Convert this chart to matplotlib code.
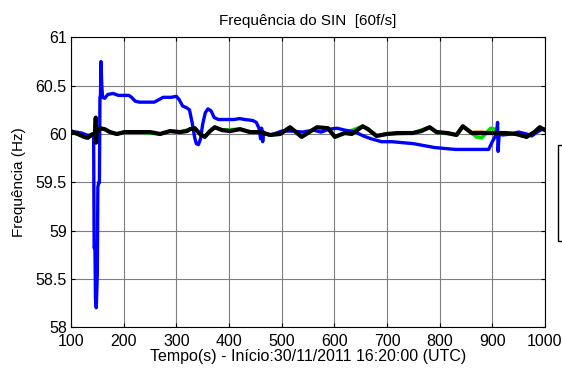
import numpy as np
import matplotlib.pyplot as plt
from matplotlib.patches import Rectangle

plt.rcParams['font.family'] = ['Liberation Sans', 'DejaVu Sans']

# PMU frequency record (s since start, Hz)
blue_t = [100, 110, 120, 130, 140, 143, 144, 145.5, 146.5, 148, 150, 151, 153, 154, 155, 156,
          157, 158.5, 160, 164, 170, 180, 190, 200, 210, 215, 222, 230, 245, 258, 265, 275,
          290, 300, 305, 312, 320, 325, 330, 335, 338, 342, 346, 350, 355, 360, 366, 372,
          380, 395, 410, 420, 430, 445, 452, 457, 460, 462, 464, 466, 470, 480, 490, 500,
          520, 540, 560, 575, 590, 605, 620, 640, 655, 670, 690, 710, 730, 750, 770, 790,
          810, 830, 850, 870, 893, 900, 905, 908, 910, 911, 913, 920, 935, 950, 965, 975,
          985, 995, 1000]
blue_v = [60.02, 60.02, 60.01, 59.99, 59.98, 59.99, 58.82, 58.84, 58.30, 58.20, 58.55, 59.45,
          59.50, 59.50, 60.38, 60.40, 60.75, 60.50, 60.38, 60.37, 60.41, 60.42, 60.40, 60.40,
          60.40, 60.38, 60.34, 60.33, 60.33, 60.33, 60.35, 60.38, 60.38, 60.39, 60.36, 60.29,
          60.27, 60.25, 60.12, 59.96, 59.90, 59.89, 59.95, 60.10, 60.22, 60.26, 60.24, 60.17,
          60.15, 60.15, 60.15, 60.16, 60.15, 60.14, 60.12, 60.06, 59.95, 60.06, 59.92, 60.02,
          60.00, 59.99, 60.01, 60.03, 60.03, 60.02, 60.04, 60.02, 60.05, 60.06, 60.04, 60.02,
          59.98, 59.95, 59.92, 59.92, 59.91, 59.90, 59.88, 59.86, 59.85, 59.84, 59.84, 59.84,
          59.84, 59.92, 59.97, 60.00, 60.12, 59.82, 60.00, 59.99, 60.00, 60.02, 60.00, 59.98,
          60.02, 60.05, 60.05]

black_t = [100, 108, 117, 125, 132, 138, 142, 146, 147, 147.5, 148.5, 155, 164, 174, 187, 202,
           215, 231, 250, 260, 269, 288, 307, 320, 326, 335, 345, 354, 364, 373, 387, 402,
           421, 440, 459, 478, 497, 516, 538, 567, 588, 601, 620, 633, 654, 664, 680, 700,
           720, 749, 765, 781, 794, 815, 832, 844, 861, 870, 925, 945, 965, 980, 990, 1000]
black_v = [60.03, 60.01, 59.99, 59.97, 59.96, 59.99, 60.00, 60.00, 60.17, 59.91, 60.02, 60.06,
           60.05, 60.02, 60.00, 60.02, 60.02, 60.02, 60.02, 60.01, 60.00, 60.03, 60.02, 60.03,
           60.05, 60.06, 60.00, 59.97, 60.03, 60.07, 60.04, 60.03, 60.05, 60.02, 60.02, 59.99,
           60.00, 60.07, 59.97, 60.07, 60.06, 59.97, 60.01, 60.00, 60.08, 60.05, 59.98, 60.00,
           60.01, 60.01, 60.03, 60.07, 60.02, 60.01, 59.99, 60.08, 60.01, 60.01, 60.01, 60.00,
           59.97, 60.02, 60.07, 60.04]

# the other two PMUs sit under the black trace, apart from 860-915 s
green_t = [100, 108, 117, 125, 132, 138, 146, 155, 164, 174, 187, 202, 231, 269, 288, 307,
           326, 335, 345, 354, 364, 373, 387, 421, 440, 459, 478, 497, 516, 538, 567, 588,
           601, 620, 654, 664, 680, 700, 749, 781, 794, 832, 844, 861, 870, 880, 890, 897,
           905, 912, 925, 945, 965, 980, 990, 1000]
green_v = [60.03, 60.01, 59.99, 59.97, 59.96, 59.99, 60.00, 60.06, 60.05, 60.02, 60.00, 60.02,
           60.02, 60.00, 60.03, 60.02, 60.05, 60.06, 60.00, 59.97, 60.03, 60.07, 60.04, 60.05,
           60.02, 60.02, 59.99, 60.00, 60.07, 59.97, 60.07, 60.06, 59.97, 60.01, 60.08, 60.05,
           59.98, 60.00, 60.01, 60.07, 60.02, 59.99, 60.08, 60.01, 59.97, 59.96, 60.02, 60.06,
           60.05, 60.00, 60.01, 60.00, 59.97, 60.02, 60.07, 60.04]

orange_t = [861, 866, 874, 882, 890]
orange_v = [60.01, 60.02, 60.02, 60.02, 60.01]

xticks = [100, 200, 300, 400, 500, 600, 700, 800, 900, 1000]
yticks = [58, 58.5, 59, 59.5, 60, 60.5, 61]
ytick_labels = ['58', '58.5', '59', '59.5', '60', '60.5', '61']

fig = plt.figure(figsize=(5.62, 3.69), dpi=100)
ax = fig.add_axes([0.1263, 0.1138, 0.8434, 0.7846])

ax.plot(orange_t, orange_v, color='#ff7f00', lw=2.4, zorder=2)
ax.plot(green_t, green_v, color='#00e000', lw=2.6, zorder=2)
ax.plot(blue_t, blue_v, color='#0000ff', lw=2.4, zorder=3)
ax.plot(black_t, black_v, color='black', lw=3.0, zorder=4)

ax.set_xlim(100, 1000)
ax.set_ylim(58, 61)
ax.set_xticks(xticks)
ax.set_yticks(yticks)
ax.set_yticklabels(ytick_labels)
ax.tick_params(direction='in', top=True, right=True, labelsize=11.5, length=3, width=0.8)
ax.tick_params(axis='x', pad=5)
ax.tick_params(axis='y', pad=3)
ax.grid(True, color='#7f7f7f', lw=0.8)
for s in ax.spines.values():
    s.set_linewidth(0.8)

ax.set_title('Frequência do SIN  [60f/s]', fontsize=11, pad=9)
ax.set_xlabel('Tempo(s) - Início:30/11/2011 16:20:00 (UTC)', fontsize=11.5, labelpad=0)
ax.set_ylabel('Frequência (Hz)', fontsize=11, labelpad=7)

# legend frame, mostly outside the canvas
fig.patches.append(Rectangle((558 / 562, 1 - 241 / 369), 0.1, 96 / 369,
                             transform=fig.transFigure, fill=False, lw=1, ec='black'))

fig.savefig('out.png', dpi=100)
